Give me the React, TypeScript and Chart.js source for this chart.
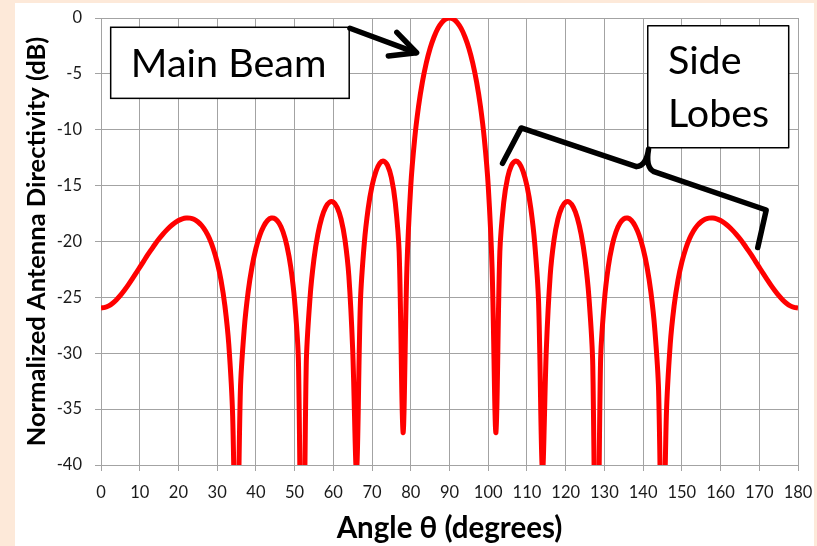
import React, { useEffect, useRef } from "react";
import { Chart, registerables } from "chart.js";

Chart.register(...registerables);

// Angle θ in degrees (one sample per degree)
const angleDeg = [
  0, 1, 2, 3, 4, 5, 6, 7, 8, 9,
  10, 11, 12, 13, 14, 15, 16, 17, 18, 19,
  20, 21, 22, 23, 24, 25, 26, 27, 28, 29,
  30, 31, 32, 33, 34, 35, 36, 37, 38, 39,
  40, 41, 42, 43, 44, 45, 46, 47, 48, 49,
  50, 51, 52, 53, 54, 55, 56, 57, 58, 59,
  60, 61, 62, 63, 64, 65, 66, 67, 68, 69,
  70, 71, 72, 73, 74, 75, 76, 77, 78, 79,
  80, 81, 82, 83, 84, 85, 86, 87, 88, 89,
  90, 91, 92, 93, 94, 95, 96, 97, 98, 99,
  100, 101, 102, 103, 104, 105, 106, 107, 108, 109,
  110, 111, 112, 113, 114, 115, 116, 117, 118, 119,
  120, 121, 122, 123, 124, 125, 126, 127, 128, 129,
  130, 131, 132, 133, 134, 135, 136, 137, 138, 139,
  140, 141, 142, 143, 144, 145, 146, 147, 148, 149,
  150, 151, 152, 153, 154, 155, 156, 157, 158, 159,
  160, 161, 162, 163, 164, 165, 166, 167, 168, 169,
  170, 171, 172, 173, 174, 175, 176, 177, 178, 179,
  180,
];

// Normalized antenna directivity (dB) read at each angle
const directivityDb = [
  -25.95, -25.9, -25.76, -25.52, -25.21, -24.83, -24.39, -23.91, -23.39, -22.86,
  -22.31, -21.77, -21.23, -20.72, -20.22, -19.76, -19.34, -18.96, -18.62, -18.34,
  -18.12, -17.97, -17.9, -17.91, -18.01, -18.23, -18.57, -19.06, -19.73, -20.64,
  -21.85, -23.48, -25.76, -29.21, -35.6, -52.8, -33.32, -27.78, -24.51, -22.26,
  -20.64, -19.46, -18.64, -18.12, -17.9, -17.97, -18.37, -19.13, -20.37, -22.28,
  -25.31, -30.87, -61.7, -31.07, -24.95, -21.55, -19.35, -17.87, -16.95, -16.49,
  -16.48, -16.95, -18.0, -19.84, -23.06, -29.71, -40.59, -25.37, -20.13, -17.04,
  -15.02, -13.72, -12.99, -12.8, -13.19, -14.3, -16.5, -20.95, -37.11, -22.4,
  -15.02, -10.83, -7.92, -5.73, -4.03, -2.71, -1.7, -0.93, -0.41, -0.1,
  0,
  -0.1, -0.41, -0.93, -1.7, -2.71, -4.03, -5.73, -7.92, -10.83,
  -15.02, -22.4, -37.11, -20.95, -16.5, -14.3, -13.19, -12.8, -12.99, -13.72,
  -15.02, -17.04, -20.13, -25.37, -40.59, -29.71, -23.06, -19.84, -18.0, -16.95,
  -16.48, -16.49, -16.95, -17.87, -19.35, -21.55, -24.95, -31.07, -61.7, -30.87,
  -25.31, -22.28, -20.37, -19.13, -18.37, -17.97, -17.9, -18.12, -18.64, -19.46,
  -20.64, -22.26, -24.51, -27.78, -33.32, -52.8, -35.6, -29.21, -25.76, -23.48,
  -21.85, -20.64, -19.73, -19.06, -18.57, -18.23, -18.01, -17.91, -17.9, -17.97,
  -18.12, -18.34, -18.62, -18.96, -19.34, -19.76, -20.22, -20.72, -21.23, -21.77,
  -22.31, -22.86, -23.39, -23.91, -24.39, -24.83, -25.21, -25.52, -25.76, -25.9,
  -25.95,
];

const X_MIN = 0;
const X_MAX = 180;
const X_STEP = 10;
const Y_MIN = -40;
const Y_MAX = 0;
const Y_STEP = 5;

const X_TITLE = "Angle θ (degrees)";
const Y_TITLE = "Normalized Antenna Directivity (dB)";
const MAIN_LABEL = "Main Beam";
const SIDE_LABEL = ["Side", "Lobes"];

const FONT = "Lato, 'Open Sans', 'DejaVu Sans', sans-serif";

const annotationPlugin = {
  id: "callouts",
  afterDatasetsDraw(chart: any) {
    const { ctx } = chart;
    const xs = chart.scales.x;
    const ys = chart.scales.y;
    const px = (v: number) => xs.getPixelForValue(v);
    const py = (v: number) => ys.getPixelForValue(v);
    ctx.save();

    // Main Beam box
    const mbL = px(2.5), mbR = px(64.1), mbT = py(-0.83), mbB = py(-7.19);
    ctx.fillStyle = "#ffffff";
    ctx.fillRect(mbL, mbT, mbR - mbL, mbB - mbT);
    ctx.strokeStyle = "#000000";
    ctx.lineWidth = 1.5;
    ctx.strokeRect(mbL, mbT, mbR - mbL, mbB - mbT);
    ctx.fillStyle = "#000000";
    ctx.font = `39.5px ${FONT}`;
    ctx.textBaseline = "alphabetic";
    ctx.textAlign = "left";
    ctx.fillText(MAIN_LABEL, px(7.7), py(-5.31));

    // Arrow to main beam
    ctx.lineWidth = 5.5;
    ctx.lineCap = "round";
    ctx.lineJoin = "round";
    ctx.beginPath();
    ctx.moveTo(px(64.3), py(-0.92));
    ctx.lineTo(px(81.3), py(-3.1));
    ctx.stroke();
    ctx.beginPath();
    ctx.moveTo(px(76.4), py(-1.28));
    ctx.lineTo(px(81.5), py(-3.11));
    ctx.lineTo(px(74.2), py(-3.4));
    ctx.stroke();

    // Side Lobes box
    const sL = px(141.2), sR = px(177.6), sT = py(-0.69), sB = py(-11.61);
    ctx.fillStyle = "#ffffff";
    ctx.fillRect(sL, sT, sR - sL, sB - sT);
    ctx.lineWidth = 1.5;
    ctx.strokeRect(sL, sT, sR - sL, sB - sT);
    ctx.fillStyle = "#000000";
    ctx.fillText(SIDE_LABEL[0], px(146.4), py(-5.01));
    ctx.fillText(SIDE_LABEL[1], px(146.4), py(-9.73));

    // Bracket
    ctx.lineWidth = 5.5;
    ctx.beginPath();
    ctx.moveTo(px(103.7), py(-13.0));
    ctx.lineTo(px(108.5), py(-9.84));
    ctx.lineTo(px(138.3), py(-13.3));
    ctx.quadraticCurveTo(px(140.8), py(-13.2), px(141.4), py(-11.75));
    ctx.quadraticCurveTo(px(140.6), py(-13.4), px(142.8), py(-13.75));
    ctx.lineTo(px(171.8), py(-17.18));
    ctx.lineTo(px(169.6), py(-20.54));
    ctx.stroke();

    ctx.restore();
  },
};

export default function App() {
  const canvasRef = useRef<HTMLCanvasElement | null>(null);

  useEffect(() => {
    const canvas = canvasRef.current;
    if (!canvas) return;
    const points = angleDeg.map((a, i) => ({ x: a, y: directivityDb[i] }));
    const gridColor = "#a3a3a3";
    const chart = new Chart(canvas, {
      type: "line",
      data: {
        datasets: [
          {
            data: points,
            borderColor: "#ff0000",
            borderWidth: 5,
            pointRadius: 0,
            tension: 0.33,
            fill: false,
          },
        ],
      },
      options: {
        responsive: false,
        animation: false,
        devicePixelRatio: 1,
        layout: { padding: { left: 0, right: 19, top: 18, bottom: 0 } },
        plugins: {
          legend: { display: false },
          tooltip: { enabled: false },
        },
        scales: {
          x: {
            type: "linear",
            min: X_MIN,
            max: X_MAX,
            ticks: {
              stepSize: X_STEP,
              autoSkip: false,
              maxRotation: 0,
              color: "#1a1a1a",
              padding: 12,
              font: { family: FONT, size: 16.5 },
            },
            grid: { color: gridColor, lineWidth: 1, tickLength: 6 },
            border: { color: gridColor, width: 1 },
            title: {
              display: true,
              text: X_TITLE,
              color: "#000000",
              font: { family: FONT, size: 29.5, weight: "bold" },
              padding: { top: 0, bottom: 0 },
            },
            afterFit: (s: any) => {
              s.height = 81;
              s.paddingLeft = 0;
              s.paddingRight = 0;
            },
          },
          y: {
            type: "linear",
            min: Y_MIN,
            max: Y_MAX,
            ticks: {
              stepSize: Y_STEP,
              color: "#1a1a1a",
              padding: 13,
              font: { family: FONT, size: 16.5 },
              callback: (v: any) => String(v),
            },
            grid: { color: gridColor, lineWidth: 1, tickLength: 6 },
            border: { color: gridColor, width: 1 },
            title: {
              display: true,
              text: Y_TITLE,
              color: "#000000",
              font: { family: FONT, size: 25.5, weight: "bold" },
              padding: { top: 21, bottom: 0 },
            },
            afterFit: (s: any) => {
              s.width = 101;
              s.paddingTop = 0;
              s.paddingBottom = 0;
            },
          },
        },
      },
      plugins: [annotationPlugin],
    });
    return () => chart.destroy();
  }, []);

  return (
    <div
      style={{
        position: "fixed",
        left: 0,
        top: 0,
        width: 817,
        height: 546,
        background: "#FDE9D9",
        overflow: "hidden",
      }}
    >
      <div
        style={{
          position: "absolute",
          left: 15,
          top: 3,
          width: 799,
          height: 543,
          background: "#ffffff",
        }}
      />
      <canvas
        ref={canvasRef}
        width={817}
        height={546}
        style={{ position: "absolute", left: 0, top: 0, width: 817, height: 546 }}
      />
    </div>
  );
}
